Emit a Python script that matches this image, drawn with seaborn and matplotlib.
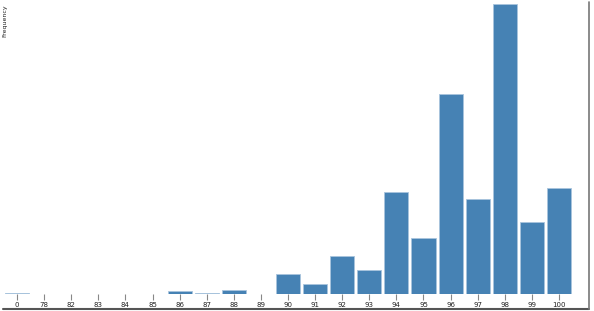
import matplotlib
matplotlib.use("Agg")
import matplotlib.pyplot as plt
import seaborn as sns
import pandas as pd
from matplotlib.lines import Line2D

categories = ["0", "78", "82", "83", "84", "85", "86", "87", "88", "89", "90",
              "91", "92", "93", "94", "95", "96", "97", "98", "99", "100"]
frequency = [1, 0, 0, 0, 0, 0, 3, 1, 4, 0, 20,
             10, 38, 24, 102, 56, 200, 95, 290, 72, 106]

df = pd.DataFrame({"score": categories, "frequency": frequency})

sns.set_style("white")
plt.rcParams['font.family'] = ['DejaVu Sans']

fig = plt.figure(figsize=(5.94, 3.11), dpi=100)
ax = fig.add_axes([3.5 / 594, (311 - 294) / 311, (572.5 - 3.5) / 594, 290 / 311])

sns.barplot(data=df, x="score", y="frequency", order=categories,
            color="#4682b4", saturation=1, width=0.89,
            edgecolor="#a9c4dd", linewidth=0.6, ax=ax)

ax.set_ylim(0, 290)
ax.set_xlim(-0.5, len(categories) - 0.5)
for s in ax.spines.values():
    s.set_visible(False)
ax.set_yticks([])
ax.set_xlabel("")
ax.set_ylabel("")
ax.tick_params(axis="x", length=4, width=0.8, color="#888888", labelsize=5,
               labelcolor="#222222", pad=1.5, bottom=True)

fig.text(0.004, 0.987, "Frequency", rotation=90, va="top", ha="left",
         fontsize=4.5, color="#222222")

# screenshot shadow frame
fig.add_artist(Line2D([3 / 594, 589 / 594], [1 - 309 / 311, 1 - 309 / 311],
                      transform=fig.transFigure, color="#555555", lw=1.5))
fig.add_artist(Line2D([589 / 594, 589 / 594], [1 - 309 / 311, 1 - 2 / 311],
                      transform=fig.transFigure, color="#777777", lw=1.2))

fig.savefig("out.png", dpi=100)
